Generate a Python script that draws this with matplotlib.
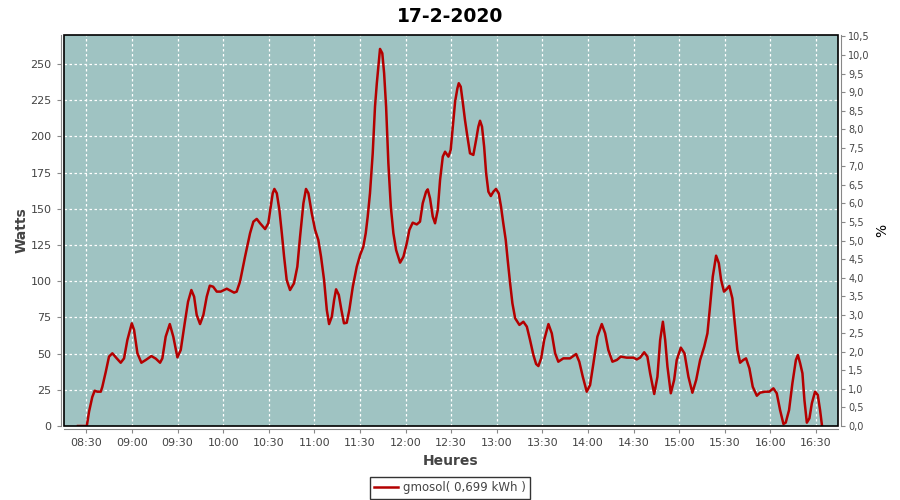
import numpy as np
import matplotlib
matplotlib.use("Agg")
import matplotlib.pyplot as plt
from matplotlib.patches import Rectangle

# minutes after 08:00, power in Watts
minutes = [24.5, 30.3, 31.8, 33.9, 35.5, 37.2, 39.5, 40.5, 42.8, 44.9,
           47.1, 50.0, 52.6, 54.8, 57.0, 59.9, 61.4, 63.6, 66.2, 69.1,
           72.8, 75.7, 78.5, 80.0, 82.2, 84.9, 87.2, 89.9, 92.1, 94.7,
           96.9, 99.1, 100.9, 102.6, 104.8, 107.0, 109.2, 111.2, 113.4, 115.8,
           118.4, 120.6, 122.4, 127.2, 128.9, 131.1, 134.4, 137.7, 139.9, 142.1,
           144.3, 147.6, 149.7, 151.3, 152.6, 153.7, 155.3, 157.0, 158.6, 160.1,
           161.8, 164.0, 166.6, 168.8, 170.6, 172.8, 174.5, 176.1, 178.3, 180.5,
           182.6, 184.4, 186.4, 188.2, 189.7, 191.5, 193.0, 194.3, 196.1, 197.8,
           199.5, 201.3, 203.0, 205.3, 207.9, 210.1, 212.2, 213.8, 215.1, 216.6,
           218.4, 219.9, 221.1, 222.1, 223.2, 224.7, 225.9, 227.2, 228.7, 230.3,
           232.0, 233.8, 236.4, 238.6, 240.8, 242.5, 244.7, 247.4, 249.5, 251.3,
           253.5, 254.6, 256.1, 257.9, 259.4, 261.2, 262.7, 264.5, 266.0, 268.2,
           269.7, 271.1, 272.6, 274.1, 275.0, 276.3, 277.6, 279.1, 280.7, 282.4,
           284.6, 286.4, 287.9, 289.0, 290.3, 291.7, 293.0, 294.5, 296.1, 297.8,
           299.5, 301.3, 302.8, 304.3, 305.9, 307.2, 308.8, 310.3, 312.1, 314.9,
           317.5, 319.8, 321.9, 324.1, 325.9, 327.4, 329.2, 331.2, 334.0, 336.2,
           338.4, 340.5, 343.8, 348.2, 352.2, 354.3, 356.6, 359.2, 361.4, 363.6,
           366.2, 369.1, 371.3, 373.4, 376.1, 379.0, 381.6, 385.5, 389.9, 392.1,
           394.3, 397.0, 399.1, 400.9, 403.6, 405.7, 407.5, 409.3, 410.8, 412.3,
           414.5, 416.7, 418.4, 421.1, 423.5, 426.1, 428.7, 431.2, 433.8, 436.5,
           438.6, 440.3, 442.1, 444.3, 446.1, 447.6, 449.5, 451.3, 453.0, 455.0,
           456.8, 458.3, 460.1, 462.2, 464.0, 466.2, 468.4, 471.1, 473.2, 476.5,
           479.3, 482.0, 484.2, 486.4, 488.6, 490.1, 492.3, 494.5, 496.8, 498.1,
           499.6, 501.1, 502.4, 504.0, 505.7, 507.3, 509.4, 511.2, 512.7, 514.0]
watts = [0, 0, 10, 20, 24.4, 23.7, 23.7, 27, 37.5, 47.9,
         50.2, 46.7, 43.7, 46.7, 59.4, 70.9, 66.3, 50.2, 43.7, 45.6,
         48.3, 46.5, 43.7, 46.7, 61.7, 70.4, 61.7, 47.4, 52.5, 70.9,
         85.8, 93.9, 89.3, 76.7, 70.4, 76.7, 89.3, 96.9, 96.2, 92.8,
         92.8, 93.9, 94.8, 92.1, 92.8, 99.7, 116.9, 133.1, 141.1, 143,
         140, 136, 140, 151.5, 160.7, 163.7, 160.7, 149.2, 133.1, 116.9,
         100.8, 93.9, 98.5, 110, 130.7, 153.8, 163.7, 160.7, 146.9, 135.4,
         128.5, 116.9, 100.8, 80.1, 70.4, 75.5, 87, 94.4, 90.5, 80.1,
         70.9, 71.3, 80.1, 96.2, 110, 118.1, 123.8, 133.1, 144.6, 160.7,
         188.3, 220.5, 236.7, 248.1, 260.4, 257.4, 243.6, 220.5, 181.4, 151.5,
         133.1, 121.5, 112.8, 116.9, 126.2, 135.4, 140.4, 139.2, 141.1, 153.8,
         161.8, 163.4, 157.2, 144.6, 140, 149.2, 169.9, 186, 189.4, 186,
         190.6, 206.7, 224, 233.1, 236.7, 234.3, 224, 211.3, 199.8, 188.3,
         187.2, 197.5, 206.7, 210.8, 206.7, 192.9, 174.7, 161.8, 158.8, 161.8,
         163.7, 160.7, 151.5, 140, 128.5, 114.6, 98.5, 84.7, 74.4, 69.8,
         72, 68.6, 59.4, 49, 42.8, 41.4, 46.7, 59.4, 70.4, 64,
         50.2, 44.4, 46.7, 46.7, 49.7, 44.4, 34, 23.7, 28.3, 43.3,
         61.7, 70.4, 64, 52.5, 44.4, 45.6, 47.9, 47.2, 47.2, 46,
         47.2, 50.9, 47.9, 36.4, 22.1, 34, 59.4, 72, 59.4, 41,
         22.6, 31.8, 45.6, 54.1, 50.2, 34, 23, 31.8, 45.6, 54.8,
         64, 82.4, 103.1, 117.6, 112.4, 100.8, 92.8, 94.6, 96.7, 88.2,
         68.6, 52.5, 43.7, 45.6, 46.7, 39.8, 27.1, 20.9, 23, 23.7,
         23.7, 26, 22.6, 11, 1.4, 2.3, 11, 29.5, 45.6, 49,
         43.3, 36.4, 18, 2.3, 5.3, 15.7, 23.7, 21.4, 11, 0]

time_ticks = [30 + 30 * i for i in range(17)]
time_labels = ["08:30", "09:00", "09:30", "10:00", "10:30", "11:00", "11:30",
               "12:00", "12:30", "13:00", "13:30", "14:00", "14:30", "15:00",
               "15:30", "16:00", "16:30"]
watt_ticks = [0, 25, 50, 75, 100, 125, 150, 175, 200, 225, 250]
pct_ticks = [i * 0.5 for i in range(22)]

title = "17-2-2020"
legend_label = "gmosol( 0,699 kWh )"

txt = "#444444"
fig = plt.figure(figsize=(9, 5), dpi=100)
ax = fig.add_axes([64 / 900, 1 - 426 / 500, 774 / 900, 391 / 500])
ax.set_facecolor("#9fc3c2")
ax.plot(minutes, watts, color="#b40000", lw=1.8, label=legend_label, zorder=3)
ax.set_xlim(15.3, 524.5)
ax.set_ylim(0, 270)
ax.set_xticks(time_ticks)
ax.set_xticklabels(time_labels)
ax.set_yticks(watt_ticks)
ax.grid(True, color="white", ls=(0, (2, 2)), lw=0.9)

ax2 = ax.twinx()
ax2.set_ylim(0, 10.54)
ax2.set_yticks(pct_ticks)
ax2.set_yticklabels([f"{v:.1f}".replace(".", ",") for v in pct_ticks])

for a in (ax, ax2):
    for s in a.spines.values():
        s.set_color("#888888")
        s.set_position(("outward", 2.5))
    a.spines["top"].set_visible(False)
    a.tick_params(colors="#888888", labelcolor=txt, length=3, width=0.8)
ax.spines["right"].set_visible(False)
ax2.spines["left"].set_visible(False)
ax2.spines["bottom"].set_visible(False)
ax.tick_params(labelsize=8)
ax2.tick_params(labelsize=7, pad=2)

# black plot outline
ax.add_patch(Rectangle((0, 0), 1, 1, transform=ax.transAxes, fill=False,
                       ec="black", lw=1.2, zorder=5, clip_on=False))

ax.set_xlabel("Heures", fontsize=10, fontweight="bold", color=txt, labelpad=4)
ax.set_ylabel("Watts", fontsize=10, fontweight="bold", color=txt, labelpad=1)
ax2.set_ylabel("%", fontsize=10, color="black", labelpad=4)
fig.suptitle(title, x=0.5, y=0.987, fontsize=13.5, fontweight="bold")

leg = fig.legend(loc="center", bbox_to_anchor=(0.5, 0.024), frameon=True,
                 fancybox=False, edgecolor="black", fontsize=8.5,
                 handlelength=2.0, borderpad=0.35, handletextpad=0.4)
leg.get_frame().set_linewidth(1.0)
for t in leg.get_texts():
    t.set_color(txt)

fig.savefig("out.png", dpi=100)
